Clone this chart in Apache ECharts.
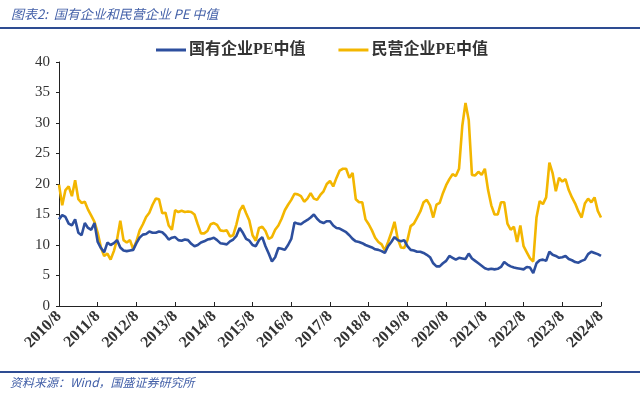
<!DOCTYPE html>
<html>
<head>
<meta charset="utf-8">
<script src="https://cdn.jsdelivr.net/npm/echarts@6/dist/echarts.min.js"></script>
<style>
html,body{margin:0;padding:0;background:#fff;}
#chart{width:640px;height:394px;}
</style>
</head>
<body>
<div id="chart"></div>
<script>
// Month range 2010/8 .. 2024/8
const startYear = 2010, startMonth = 8, monthCount = 169;
const categories = [];
for (let i = 0; i < monthCount; i++) {
  const t = (startMonth - 1) + i;
  categories.push((startYear + Math.floor(t / 12)) + '/' + ((t % 12) + 1));
}

const seriesNames = ['国有企业PE中值', '民营企业PE中值'];

const soePE = [
  14.2,14.9,14.6,13.5,13.2,14.2,12.0,11.6,13.6,12.8,
  12.5,13.6,10.5,9.5,8.8,10.4,10.0,10.3,10.8,9.6,
  9.1,9.0,9.1,9.2,10.3,11.2,11.7,11.8,12.2,12.0,
  12.0,12.2,12.1,11.6,10.9,11.2,11.3,10.8,10.7,10.9,
  10.8,10.2,9.8,10.0,10.4,10.6,10.9,11.0,11.2,10.8,
  10.3,10.2,10.1,10.6,10.9,11.5,12.8,12.0,11.0,10.7,
  10.0,9.8,10.8,11.3,9.8,8.6,7.3,8.0,9.5,9.4,
  9.2,10.0,11.0,13.7,13.5,13.4,13.8,14.1,14.5,15.0,
  14.3,13.8,13.6,13.9,13.9,13.2,12.8,12.7,12.4,12.1,
  11.6,11.0,10.6,10.5,10.3,10.0,9.8,9.6,9.3,9.2,
  9.0,8.7,9.8,10.5,11.3,10.8,10.6,10.8,9.8,9.2,
  9.1,8.9,8.9,8.7,8.4,8.0,7.0,6.5,6.5,7.0,
  7.4,8.2,7.9,7.6,7.9,7.8,7.7,8.6,7.8,7.4,
  7.0,6.6,6.2,6.0,6.1,6.0,6.1,6.4,7.2,6.8,
  6.5,6.3,6.2,6.1,6.0,6.4,6.3,5.4,7.0,7.5,
  7.6,7.4,8.9,8.4,8.2,7.9,8.0,8.2,7.7,7.5,
  7.2,7.1,7.4,7.6,8.5,8.9,8.7,8.5,8.2
];

const privatePE = [
  19.9,16.5,19.0,19.6,18.0,20.6,17.5,16.9,17.1,15.8,
  14.8,13.8,12.0,9.6,8.2,8.6,7.6,9.0,10.9,14.0,
  10.8,10.4,10.8,9.3,10.6,12.4,13.4,14.6,15.3,16.6,
  17.6,17.5,15.2,15.3,13.2,12.5,15.7,15.4,15.6,15.4,
  15.5,15.4,15.0,13.4,11.9,11.9,12.3,13.4,13.6,13.3,
  12.4,12.3,12.4,11.4,11.6,13.4,15.6,16.5,15.2,14.0,
  11.6,10.7,12.8,13.0,12.3,11.0,11.3,12.5,13.2,14.3,
  15.7,16.6,17.4,18.4,18.3,18.0,17.1,17.6,18.5,17.6,
  17.4,18.2,18.8,20.0,20.5,19.6,21.0,22.2,22.5,22.5,
  21.0,21.8,17.5,17.0,17.0,14.2,13.4,12.4,11.2,10.5,
  10.1,9.1,10.5,12.0,13.8,11.0,9.6,9.5,10.8,13.1,
  13.5,14.5,15.5,17.0,17.4,16.5,14.5,16.6,16.9,18.5,
  19.8,20.8,21.6,21.3,22.5,29.5,33.3,30.5,21.5,21.4,
  22.0,21.5,22.5,19.0,16.5,15.0,15.0,17.0,17.0,13.5,
  12.5,13.0,10.5,13.2,9.8,8.8,7.8,7.3,14.5,17.2,
  16.7,17.8,23.5,21.8,18.8,21.0,20.4,20.8,19.0,17.8,
  16.8,15.5,14.5,16.8,17.6,17.0,17.8,15.6,14.5
];

const yTicks = { min: 0, max: 40, interval: 5 };
const titleText = '图表2:  国有企业和民营企业 PE 中值';
const sourceText = '资料来源：Wind，国盛证券研究所';

const BLUE = '#2D4F9E';
const YELLOW = '#F3B600';
const HEADER_BLUE = '#2E4C92';
const TEXT_BLUE = '#4360A8';

const chart = echarts.init(document.getElementById('chart'), null, { renderer: 'canvas' });
chart.setOption({
  backgroundColor: '#fff',
  animation: false,
  graphic: [
    { type: 'text', left: 11, top: 8,
      style: { text: titleText, fill: TEXT_BLUE, font: 'italic 13px "Noto Sans CJK SC", sans-serif' } },
    { type: 'rect', shape: { x: 0, y: 27, width: 640, height: 2 }, style: { fill: HEADER_BLUE } },
    { type: 'rect', shape: { x: 0, y: 371, width: 640, height: 2 }, style: { fill: HEADER_BLUE } },
    { type: 'text', left: 10, top: 376,
      style: { text: sourceText, fill: TEXT_BLUE, font: 'italic 12px "Noto Sans CJK SC", sans-serif' } }
  ],
  legend: {
    left: 151, top: 37,
    itemWidth: 30, itemHeight: 3, itemGap: 33,
    icon: 'rect',
    textStyle: { fontSize: 16, fontWeight: 'bold', color: '#333',
      fontFamily: '"Liberation Serif", "Noto Sans CJK SC", serif', padding: [0,0,0,-2] },
    data: seriesNames
  },
  grid: { left: 59, right: 39, top: 62, bottom: 88 },
  xAxis: {
    type: 'category',
    data: categories,
    boundaryGap: false,
    axisLine: { lineStyle: { color: '#222', width: 1 } },
    axisTick: { show: true, inside: true, length: 4, interval: 11, lineStyle: { color: '#222' } },
    axisLabel: {
      interval: 11, rotate: 45, margin: 8,
      fontSize: 16, fontWeight: 'bold', color: '#333',
      fontFamily: '"Liberation Serif", serif'
    },
    splitLine: { show: false }
  },
  yAxis: {
    type: 'value',
    min: yTicks.min, max: yTicks.max, interval: yTicks.interval,
    axisLine: { show: true, lineStyle: { color: '#222', width: 1 } },
    axisTick: { show: true, length: 3, lineStyle: { color: '#222' } },
    axisLabel: { fontSize: 15, color: '#333', margin: 9, fontFamily: '"Liberation Serif", serif' },
    splitLine: { show: false }
  },
  series: [
    { name: seriesNames[0], type: 'line', data: soePE, showSymbol: false, symbol: 'none',
      lineStyle: { color: BLUE, width: 2.6 }, itemStyle: { color: BLUE }, z: 3 },
    { name: seriesNames[1], type: 'line', data: privatePE, showSymbol: false, symbol: 'none',
      lineStyle: { color: YELLOW, width: 2.6 }, itemStyle: { color: YELLOW }, z: 2 }
  ]
});
</script>
</body>
</html>
